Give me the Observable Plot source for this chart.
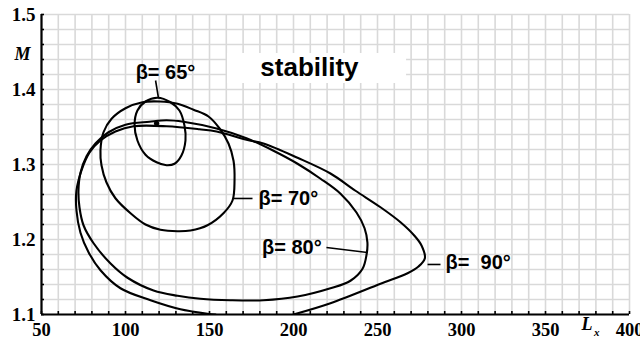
<!DOCTYPE html>
<html>
<head>
<meta charset="utf-8">
<script src="https://cdn.jsdelivr.net/npm/d3@7"></script>
<script src="https://cdn.jsdelivr.net/npm/@observablehq/plot@0.6"></script>
<style>
  html, body { margin: 0; padding: 0; background: #fff; }
  #chart svg { display: block; }
</style>
</head>
<body>
<div id="chart"></div>
<script>
// ---- data ----
const xTicks = [50, 100, 150, 200, 250, 300, 350, 400];
const yTicks = [1.1, 1.2, 1.3, 1.4, 1.5];

// beta = 65 deg (closed)
const beta65 = [
  [119.0, 1.389], [126.8, 1.383], [132.1, 1.372], [135.1, 1.352], [135.7, 1.332],
  [133.3, 1.312], [129.2, 1.301], [124.4, 1.299], [118.5, 1.303], [111.9, 1.313],
  [107.1, 1.332], [105.4, 1.353], [107.1, 1.372], [111.9, 1.384]
];
// beta = 70 deg (closed)
const beta70 = [
  [120.2, 1.384], [131.0, 1.381], [140.5, 1.373], [149.4, 1.364], [156.0, 1.348],
  [161.3, 1.328], [164.3, 1.305], [164.9, 1.279], [163.7, 1.252], [158.3, 1.235],
  [148.8, 1.219], [138.7, 1.212], [131.0, 1.211], [120.8, 1.213], [111.9, 1.220],
  [103.0, 1.235], [94.0, 1.255], [88.7, 1.276], [85.7, 1.299], [85.1, 1.319],
  [86.9, 1.343], [91.7, 1.361], [100.0, 1.375], [110.1, 1.383]
];
// beta = 80 deg (closed)
const beta80 = [
  [114.3, 1.357], [124.4, 1.359], [134.5, 1.357], [154.2, 1.348], [172.0, 1.335],
  [187.5, 1.319], [202.4, 1.301], [216.1, 1.281], [228.0, 1.261], [237.5, 1.236],
  [242.3, 1.215], [244.0, 1.196], [243.5, 1.180], [241.1, 1.161], [233.9, 1.145],
  [222.0, 1.135], [202.4, 1.124], [182.1, 1.119], [162.5, 1.119], [144.6, 1.121],
  [131.0, 1.125], [116.7, 1.132], [101.2, 1.149], [91.1, 1.168], [81.0, 1.195],
  [75.0, 1.219], [72.6, 1.243], [72.0, 1.265], [73.2, 1.289], [76.8, 1.311],
  [82.1, 1.328], [89.9, 1.343], [100.0, 1.353]
];
// beta = 90 deg (open, both ends on M = 1.1)
const beta90 = [
  [200.0, 1.100], [222.0, 1.115], [251.8, 1.141], [267.9, 1.155],
  [274.4, 1.164], [278.2, 1.175], [276.2, 1.192], [272.0, 1.205], [263.7, 1.223],
  [251.8, 1.243], [236.9, 1.265], [222.0, 1.288], [202.4, 1.309], [182.1, 1.328],
  [172.0, 1.333], [154.2, 1.344], [144.0, 1.347], [124.4, 1.351], [104.8, 1.351],
  [94.0, 1.344], [85.1, 1.332], [78.6, 1.316], [73.8, 1.292], [70.8, 1.265],
  [70.8, 1.239], [73.2, 1.209], [78.0, 1.183], [85.1, 1.159], [97.0, 1.135],
  [114.9, 1.119], [132.7, 1.107], [148.8, 1.101], [153.6, 1.100]
];
const centerPoint = [[118.5, 1.355]];

// labels
const curveLabels = ["β= 65°", "β= 70°", "β= 80°", "β=  90°"];
const labelX = [123.8, 179.2, 199.0, 290.5];
const labelY = [1.4227, 1.2540, 1.1893, 1.1693];
const labelAnchor = ["middle", "start", "middle", "start"];
const leaderX1 = [119.6, 164.3, 219.6, 279.8];
const leaderY1 = [1.389, 1.2547, 1.1893, 1.1667];
const leaderX2 = [117.9, 175.6, 244.0, 287.5];
const leaderY2 = [1.412, 1.2547, 1.1827, 1.1667];

const regionLabel = "stability";
const regionBox = {x1: 160.7, x2: 267.3, y1: 1.408, y2: 1.448};
const regionTextPos = [209.5, 1.4293];

// ---- build tables for the library ----
const labels = curveLabels.map((t, i) => ({t, x: labelX[i], y: labelY[i], a: labelAnchor[i]}));
const leaders = leaderX1.map((x1, i) => ({x1, y1: leaderY1[i], x2: leaderX2[i], y2: leaderY2[i]}));
const gridXs = d3.range(50, 401, 10);
const gridYs = d3.range(0, 21).map(i => +(1.1 + i * 0.02).toFixed(2));

const px = d => d[0], py = d => d[1];
const curveStyle = {x: px, y: py, stroke: "black", strokeWidth: 2.1, clip: true};
const sans = "'Liberation Sans', Arial, sans-serif";
const serif = "'Liberation Serif', 'Times New Roman', serif";
const labelStyle = {x: "x", y: "y", text: "t", fontFamily: sans, fontWeight: "bold", fontSize: 20, fill: "black"};

const chart = Plot.plot({
  width: 640,
  height: 343,
  marginLeft: 41,
  marginRight: 11,
  marginTop: 14,
  marginBottom: 29,
  style: {background: "#fff", overflow: "visible"},
  x: {domain: [50, 400]},
  y: {domain: [1.1, 1.5]},
  marks: [
    Plot.ruleX(gridXs, {stroke: "#d9d9d9", strokeWidth: 1.6}),
    Plot.ruleY(gridYs, {stroke: "#d9d9d9", strokeWidth: 1.6}),
    // stability box
    Plot.rect([regionBox], {x1: "x1", x2: "x2", y1: "y1", y2: "y2", fill: "white"}),
    Plot.text([regionLabel], {x: regionTextPos[0], y: regionTextPos[1], text: d => d,
      fontFamily: sans, fontWeight: "bold", fontSize: 26, fill: "black"}),
    // curves
    Plot.line(beta90, {...curveStyle, curve: "catmull-rom"}),
    Plot.line(beta80, {...curveStyle, curve: "catmull-rom-closed"}),
    Plot.line(beta70, {...curveStyle, curve: "catmull-rom-closed"}),
    Plot.line(beta65, {...curveStyle, curve: "catmull-rom-closed"}),
    Plot.dot(centerPoint, {x: px, y: py, r: 2.6, fill: "black"}),
    // leaders and labels
    Plot.link(leaders, {x1: "x1", y1: "y1", x2: "x2", y2: "y2", stroke: "black", strokeWidth: 1.6}),
    Plot.text(labels.filter(d => d.a === "middle"), {...labelStyle, textAnchor: "middle"}),
    Plot.text(labels.filter(d => d.a === "start"), {...labelStyle, textAnchor: "start"}),
    // axes
    Plot.axisX({ticks: gridXs, tickSize: -3, tickFormat: () => "", strokeWidth: 1.6}),
    Plot.axisX({ticks: xTicks, tickSize: 0, tickPadding: 8, tickFormat: d => String(d),
      fontFamily: serif, fontWeight: "bold", fontSize: 18.5, label: null}),
    Plot.axisY({ticks: gridYs, tickSize: -3, tickFormat: () => "", strokeWidth: 1.6}),
    Plot.axisY({ticks: yTicks, tickSize: 0, tickPadding: 6, tickFormat: d => d.toFixed(1),
      fontFamily: serif, fontWeight: "bold", fontSize: 19, label: null}),
    Plot.ruleX([50], {stroke: "black", strokeWidth: 2.2}),
    Plot.ruleY([1.1], {stroke: "black", strokeWidth: 2.2}),
    // axis titles
    Plot.text(["M"], {frameAnchor: "top-left", textAnchor: "middle", dx: -19, dy: 33, text: d => d,
      fontFamily: serif, fontStyle: "italic", fontWeight: "bold", fontSize: 18, fill: "black"}),
    Plot.text(["L"], {frameAnchor: "bottom-right", dx: -37, dy: 15, text: d => d,
      fontFamily: serif, fontStyle: "italic", fontWeight: "bold", fontSize: 18, fill: "black"}),
    Plot.text(["x"], {frameAnchor: "bottom-right", dx: -30, dy: 21, text: d => d,
      fontFamily: serif, fontStyle: "italic", fontWeight: "bold", fontSize: 11, fill: "black"})
  ]
});
document.getElementById("chart").appendChild(chart);
</script>
</body>
</html>
